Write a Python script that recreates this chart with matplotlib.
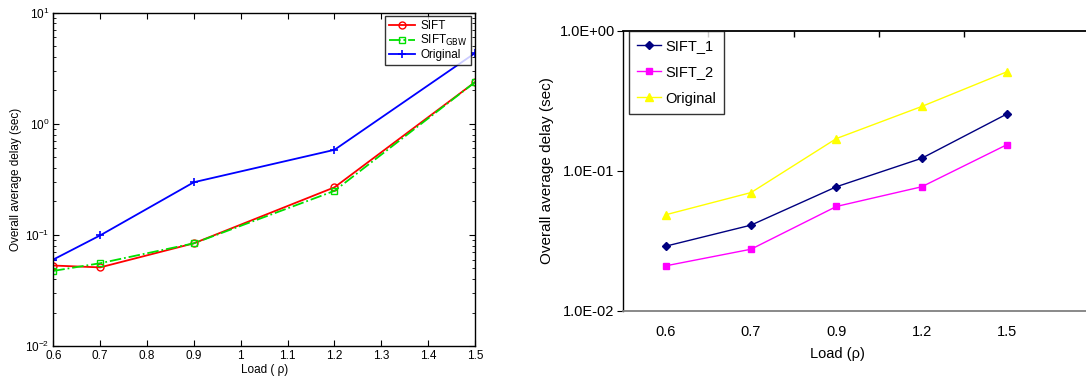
import numpy as np
import matplotlib.pyplot as plt
from matplotlib.ticker import FixedLocator, FixedFormatter, LogLocator, NullFormatter

plt.rcParams['font.family'] = ['Liberation Sans', 'DejaVu Sans']

# left panel (MATLAB style)
load_left = [0.6, 0.7, 0.9, 1.2, 1.5]
sift = [0.053, 0.051, 0.084, 0.268, 2.37]
sift_gbw = [0.0474, 0.0556, 0.084, 0.249, 2.37]
orig_left = [0.060, 0.099, 0.298, 0.583, 4.33]

# right panel (Excel style, categorical x)
load_right = ['0.6', '0.7', '0.9', '1.2', '1.5']
sift_1 = [0.029, 0.041, 0.077, 0.123, 0.255]
sift_2 = [0.021, 0.0276, 0.0557, 0.077, 0.154]
orig_right = [0.0486, 0.070, 0.170, 0.288, 0.51]
right_yticks = [0.01, 0.1, 1.0]
right_ylabels = ['1.0E-02', '1.0E-01', '1.0E+00']

fig = plt.figure(figsize=(10.86, 3.78), dpi=100)

# ---- left ----
ax1 = fig.add_axes([53.3/1086, 1-346/378, (475-53.3)/1086, (346-12.7)/378])
ax1.plot(load_left, sift, color='red', lw=1.3, marker='o', ms=5, mfc='none', mew=1, label='SIFT')
ax1.plot(load_left, sift_gbw, color='#00e000', lw=1.3, ls='-.', marker='s', ms=4.5, mfc='none', mew=1,
         label='SIFT$_{\\mathrm{GBW}}$')
ax1.plot(load_left, orig_left, color='blue', lw=1.3, marker='+', ms=6, mew=1.2, label='Original')
ax1.set_yscale('log')
ax1.set_xlim(0.6, 1.5)
ax1.set_ylim(1e-2, 1e1)
ax1.set_xticks(np.arange(0.6, 1.51, 0.1))
ax1.set_xticklabels(['0.6', '0.7', '0.8', '0.9', '1', '1.1', '1.2', '1.3', '1.4', '1.5'])
ax1.yaxis.set_major_locator(LogLocator(base=10, numticks=10))
ax1.yaxis.set_minor_locator(LogLocator(base=10, subs=np.arange(2, 10), numticks=10))
ax1.yaxis.set_minor_formatter(NullFormatter())
ax1.tick_params(which='both', direction='in', top=True, right=True, labelsize=8.5, pad=3)
ax1.tick_params(which='major', length=4)
ax1.tick_params(which='minor', length=2.5)
for s in ax1.spines.values():
    s.set_linewidth(1)
ax1.set_xlabel('Load ( ρ)', fontsize=8.5, labelpad=1)
ax1.set_ylabel('Overall average delay (sec)', fontsize=8.5, labelpad=2)
leg1 = ax1.legend(loc='upper right', fontsize=8.5, frameon=True, fancybox=False,
                  edgecolor='black', borderpad=0.3, labelspacing=0.1, handlelength=2.2,
                  handletextpad=0.5, borderaxespad=0.3)
leg1.get_frame().set_linewidth(1)

# ---- right ----
xr = np.arange(len(load_right))
ax2 = fig.add_axes([623/1086, 1-311/378, 1-623/1086, (311-30.7)/378])
ax2.plot(xr, sift_1, color='#000080', lw=1, marker='D', ms=4, label='SIFT_1')
ax2.plot(xr, sift_2, color='#ff00ff', lw=1, marker='s', ms=5, label='SIFT_2')
ax2.plot(xr, orig_right, color='#ffff00', lw=1, marker='^', ms=6, label='Original')
ax2.set_yscale('log')
ax2.set_ylim(0.01, 1.0)
ax2.set_xlim(-0.5, (1086-665)/85.5)
ax2.yaxis.set_major_locator(FixedLocator(right_yticks))
ax2.yaxis.set_major_formatter(FixedFormatter(right_ylabels))
ax2.yaxis.set_minor_locator(FixedLocator([]))
ax2.set_xticks(xr)
ax2.set_xticklabels(load_right)
ax2.xaxis.set_minor_locator(FixedLocator(xr[:-1] + 0.5))
ax2.tick_params(axis='x', which='major', length=0, labelsize=10.5, pad=10, top=False)
ax2.tick_params(axis='x', which='minor', bottom=False, top=True, direction='in', length=4, width=1)
ax2.tick_params(axis='y', which='major', direction='out', length=4, labelsize=10.5, pad=2)
ax2.spines['right'].set_visible(False)
ax2.spines['bottom'].set_color('#808080')
ax2.spines['bottom'].set_linewidth(1.3)
ax2.spines['top'].set_linewidth(1.3)
ax2.spines['left'].set_linewidth(1)
ax2.set_xlabel('Load (ρ)', fontsize=10.5)
ax2.xaxis.set_label_coords((837-623)/463, -0.13, transform=ax2.transAxes)
ax2.xaxis.label.set_verticalalignment('top')
ax2.set_ylabel('Overall average delay (sec)', fontsize=11, labelpad=4)
leg2 = ax2.legend(loc='upper left', fontsize=10.5, frameon=True, fancybox=False,
                  edgecolor='black', borderpad=0.55, labelspacing=0.85, handlelength=1.65,
                  handletextpad=0.3, borderaxespad=0, bbox_to_anchor=(0.013, 1.0))
leg2.get_frame().set_linewidth(1)

fig.savefig('out.png', dpi=100)
